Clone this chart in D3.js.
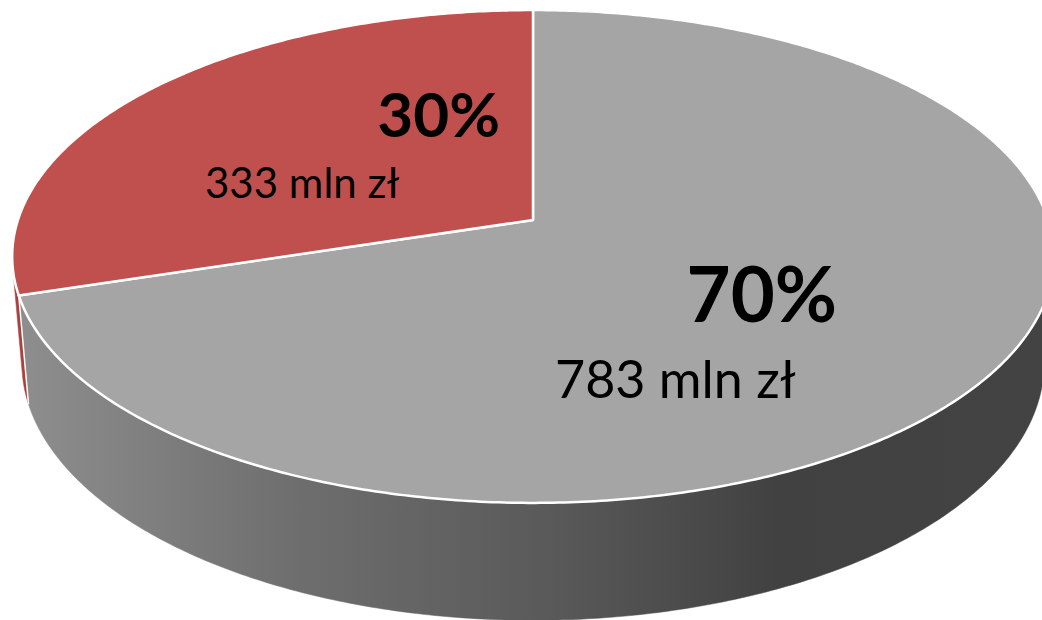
<!DOCTYPE html>
<html>
<head>
<meta charset="utf-8">
<script src="https://cdn.jsdelivr.net/npm/d3@7"></script>
<style>
  body { margin: 0; background: #fff; }
  svg { display: block; }
</style>
</head>
<body>
<div id="chart"></div>
<script>
'use strict';

// data
var values = [783, 333];            // mln zł
var colors = ['#a5a5a5', '#c0504d'];
var sideColors = ['url(#grayside)', '#a8423f'];
var unit = ' mln zł';

var width = 1042, height = 620;

// simple perspective camera for a 3d pie
var cx = 533, cy = 220;       // projected centre of the top face
var phi = 27.9 * Math.PI / 180;
var sinP = Math.sin(phi), cosP = Math.cos(phi);
var dist = 5.97;              // camera distance (in pie radii)
var focal = 3075;
var depth = 0.236;            // pie thickness (in pie radii)

function project(a, r, y){
  // a: angle clockwise from back, r: radius, y: height
  var X = r * Math.sin(a), Z = -r * Math.cos(a);
  var yc = y * cosP - Z * sinP;
  var zc = dist - (y * sinP + Z * cosP);
  return [cx + focal * X / zc, cy - focal * yc / zc];
}

function arcPoints(a0, a1, y){
  var n = Math.max(2, Math.ceil(Math.abs(a1 - a0) / 0.01));
  var pts = [];
  for (var i = 0; i <= n; i++){
    pts.push(project(a0 + (a1 - a0) * i / n, 1, y));
  }
  return pts;
}

var pie = d3.pie().sort(null).startAngle(0).endAngle(2 * Math.PI);
var arcs = pie(values);
var total = d3.sum(values);

var svg = d3.select('#chart').append('svg')
  .attr('width', width)
  .attr('height', height);

var defs = svg.append('defs');
var grad = defs.append('linearGradient')
  .attr('id', 'grayside')
  .attr('gradientUnits', 'userSpaceOnUse')
  .attr('x1', 20).attr('x2', 1045).attr('y1', 0).attr('y2', 0);
[[0, '#8e8e8e'], [0.27, '#6e6e6e'], [0.52, '#595959'], [0.74, '#414141'], [1, '#434343']]
  .forEach(function(s){
    grad.append('stop').attr('offset', s[0]).attr('stop-color', s[1]);
  });

var line = d3.line();

// visible range of the outer wall (normal facing the camera)
var camZ = dist * cosP;
var limit = Math.acos(-1 / camZ);          // ~100.9 deg
var visA0 = limit, visA1 = 2 * Math.PI - limit;

// outer walls
arcs.forEach(function(d, i){
  var a0 = Math.max(d.startAngle, visA0);
  var a1 = Math.min(d.endAngle, visA1);
  if (a1 <= a0) return;
  var top = arcPoints(a0, a1, 0);
  var bottom = arcPoints(a1, a0, -depth);
  svg.append('path')
    .attr('d', line(top.concat(bottom)) + 'Z')
    .attr('fill', sideColors[i])
    .attr('stroke', sideColors[i])
    .attr('stroke-width', 0.5);
});

// white seam between walls at slice boundaries
arcs.forEach(function(d){
  var a = d.endAngle;
  if (a > visA0 && a < visA1){
    svg.append('path')
      .attr('d', line([project(a, 1, 0), project(a, 1, -depth)]))
      .attr('stroke', '#fff')
      .attr('stroke-width', 1.5);
  }
});

// top faces
arcs.forEach(function(d, i){
  var pts = [[cx, cy]].concat(arcPoints(d.startAngle, d.endAngle, 0));
  svg.append('path')
    .attr('d', line(pts) + 'Z')
    .attr('fill', colors[i])
    .attr('stroke', '#fff')
    .attr('stroke-width', 2.5)
    .attr('stroke-linejoin', 'round');
});

// labels
var labelPos = [
  {pctX: 837, pctY: 322, pctSize: 76, valX: 555, valY: 398, valSize: 52},
  {pctX: 500, pctY: 137, pctSize: 62, valX: 205, valY: 198, valSize: 42}
];
var font = 'Lato, "Open Sans", sans-serif';

arcs.forEach(function(d, i){
  var p = labelPos[i];
  svg.append('text')
    .attr('x', p.pctX).attr('y', p.pctY)
    .attr('text-anchor', 'end')
    .attr('font-family', font)
    .attr('font-weight', 'bold')
    .attr('font-size', p.pctSize)
    .attr('fill', '#000')
    .text(Math.round(d.value / total * 100) + '%');
  svg.append('text')
    .attr('x', p.valX).attr('y', p.valY)
    .attr('font-family', font)
    .attr('font-size', p.valSize)
    .attr('fill', '#000')
    .text(d.value + unit);
});
</script>
</body>
</html>
